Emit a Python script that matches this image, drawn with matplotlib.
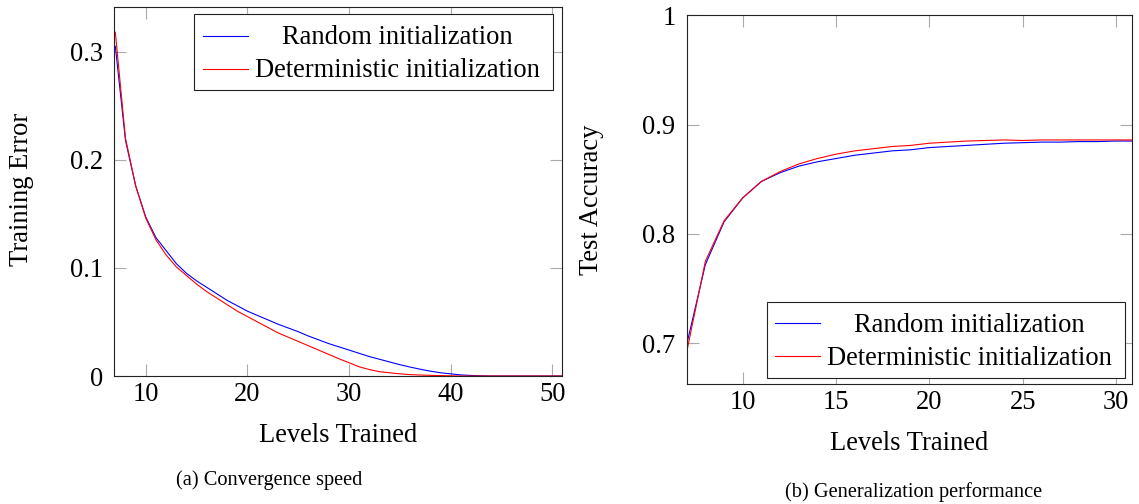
import matplotlib
matplotlib.use('Agg')
import matplotlib.pyplot as plt
from matplotlib.patches import Rectangle
from matplotlib.ticker import FuncFormatter

# data
levels_a = list(range(7, 52))
err_random = [0.305, 0.218, 0.176, 0.147, 0.128, 0.116, 0.104, 0.095, 0.088, 0.082,
              0.076, 0.070, 0.065, 0.060, 0.056, 0.052, 0.048, 0.0445, 0.041, 0.037,
              0.0335, 0.030, 0.027, 0.024, 0.021, 0.018, 0.0155, 0.013, 0.0105, 0.0083,
              0.0063, 0.0045, 0.003, 0.002, 0.001, 0.0005, 0.0002, 0.0, 0.0, 0.0,
              0.0, 0.0, 0.0, 0.0, 0.0]
err_determ = [0.318, 0.220, 0.176, 0.146, 0.126, 0.112, 0.101, 0.093, 0.085, 0.078,
              0.072, 0.066, 0.060, 0.055, 0.050, 0.045, 0.040, 0.036, 0.032, 0.028,
              0.024, 0.020, 0.016, 0.0123, 0.0085, 0.006, 0.004, 0.003, 0.002, 0.0013,
              0.0009, 0.0006, 0.0004, 0.0002, 0.0, 0.0, 0.0, 0.0, 0.0, 0.0,
              0.0, 0.0, 0.0, 0.0, 0.0]

levels_b = list(range(7, 32))
acc_random = [0.699, 0.772, 0.811, 0.833, 0.848, 0.856, 0.862, 0.866, 0.869, 0.872,
              0.874, 0.876, 0.877, 0.879, 0.880, 0.881, 0.882, 0.883, 0.8835, 0.884,
              0.884, 0.8845, 0.8845, 0.885, 0.885]
acc_determ = [0.692, 0.775, 0.812, 0.833, 0.848, 0.857, 0.864, 0.869, 0.873, 0.876,
              0.878, 0.880, 0.881, 0.883, 0.884, 0.885, 0.8855, 0.886, 0.8855, 0.886,
              0.886, 0.886, 0.886, 0.886, 0.886]

labels = ['Random initialization', 'Deterministic initialization']
colors = ['#0000ff', '#ff0000']

W, H = 1139, 504
FS = 19.1

plt.rcParams['font.family'] = ['Liberation Serif', 'DejaVu Serif']
plt.rcParams['mathtext.fontset'] = 'stix'

fig = plt.figure(figsize=(W / 100, H / 100), dpi=100)

# axes placed in pixels (left, top, right, bottom)
def px_axes(l, t, r, b):
    return fig.add_axes([l / W, 1 - b / H, (r - l) / W, (b - t) / H])

ax1 = px_axes(114.3, 6.7, 562.3, 376)
ax2 = px_axes(686.7, 15.3, 1131.7, 384.3)


def style(ax):
    for s in ax.spines.values():
        s.set_color('#222222')
        s.set_linewidth(0.8)
    ax.tick_params(direction='in', length=8.4, width=0.8, color='#aaaaaa',
                   top=True, right=True, labelsize=FS)
    ax.tick_params(axis='y', pad=8.0)
    ax.tick_params(axis='x', pad=4.0)
    ax.yaxis.set_major_formatter(FuncFormatter(lambda v, p: '%g' % round(v, 3)))


def draw_legend(ax, x_left, y_top):
    bb = ax.get_position()
    wpx, hpx = bb.width * W, bb.height * H
    bw, bh = 358.5 / wpx, 76 / hpx
    ax.add_patch(Rectangle((x_left, y_top - bh), bw, bh, transform=ax.transAxes,
                           facecolor='white', edgecolor='#222222', lw=0.8, zorder=5))
    for i, (lab, col) in enumerate(zip(labels, colors)):
        y = y_top - (21.5 + 33 * i) / hpx
        ax.plot([x_left + 8.5 / wpx, x_left + 53.5 / wpx], [y, y], transform=ax.transAxes,
                color=col, lw=0.8, zorder=6)
        ax.text(x_left + 203 / wpx, y - 8.6 / hpx, lab, transform=ax.transAxes,
                ha='center', va='baseline', fontsize=FS, zorder=6)


# (a) convergence speed
ax1.plot(levels_a, err_random, color=colors[0], lw=0.8)
ax1.plot(levels_a, err_determ, color=colors[1], lw=0.8)
ax1.set_xlim(6.9, 51)
ax1.set_ylim(0, 0.3416)
ax1.set_xticks([10, 20, 30, 40, 50])
ax1.set_yticks([0, 0.1, 0.2, 0.3])
style(ax1)
draw_legend(ax1, 0.178, 0.9794)

# (b) generalization performance
ax2.plot(levels_b, acc_random, color=colors[0], lw=0.8)
ax2.plot(levels_b, acc_determ, color=colors[1], lw=0.8)
ax2.set_xlim(7, 30.84)
ax2.set_ylim(0.6625, 1.0)
ax2.set_xticks([10, 15, 20, 25, 30])
ax2.set_yticks([0.7, 0.8, 0.9, 1.0])
style(ax2)
draw_legend(ax2, 0.1798, 0.2238)


def px_text(x, y, s, **kw):
    fig.text(x / W, 1 - y / H, s, ha='center', va='center', **kw)


px_text(21.5, 189, 'Training Error', rotation=90, fontsize=FS)
px_text(591, 200, 'Test Accuracy', rotation=90, fontsize=FS)
px_text(338, 435, 'Levels Trained', fontsize=FS)
px_text(909, 443, 'Levels Trained', fontsize=FS)
px_text(269, 480, '(a) Convergence speed', fontsize=14.7)
px_text(914, 492, '(b) Generalization performance', fontsize=14.7)

fig.savefig('out.png', dpi=100)
